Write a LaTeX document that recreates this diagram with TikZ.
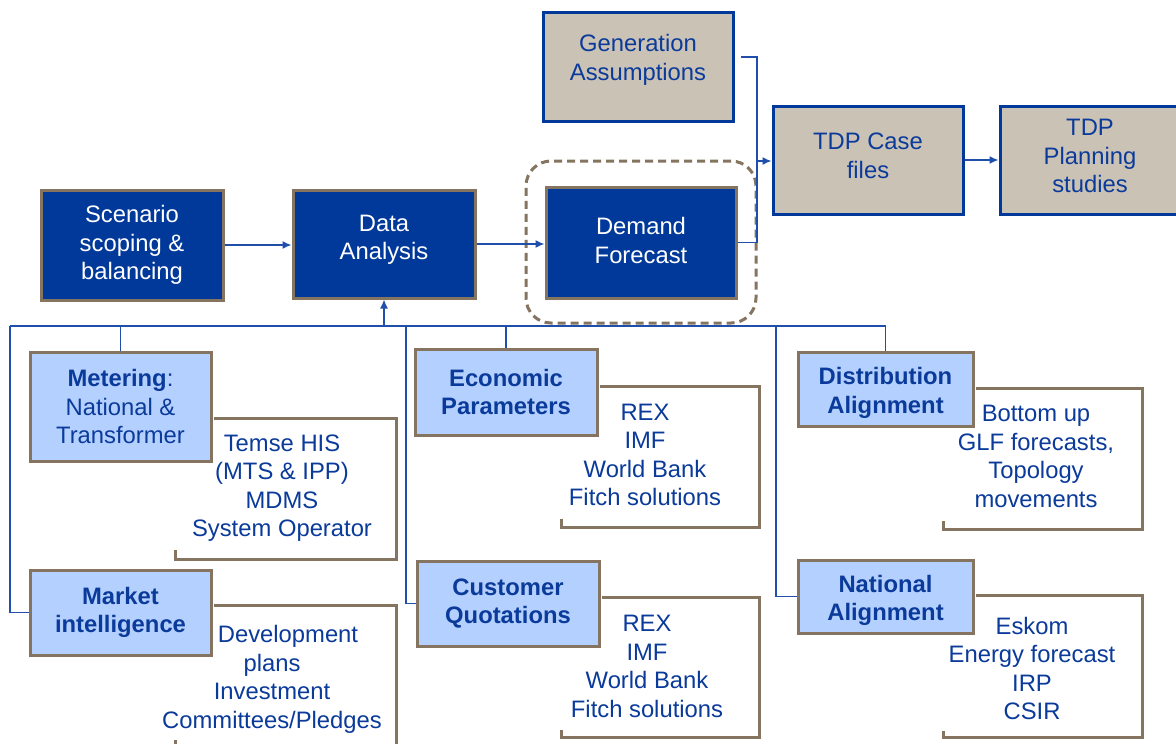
\documentclass[tikz,border=0pt]{standalone}
\usepackage{fontspec}
\setmainfont{Liberation Sans}
\usetikzlibrary{arrows.meta}
\definecolor{dblue}{HTML}{00399A}
\definecolor{tblue}{HTML}{0A3A9A}
\definecolor{lblue}{HTML}{B4D0FF}
\definecolor{brownc}{HTML}{857560}
\definecolor{greyc}{HTML}{CBC2B6}
\definecolor{lineblue}{HTML}{1F4FAA}
\begin{document}
\begin{tikzpicture}[x=1pt,y=-1pt,
  font=\fontsize{23.8}{28.5}\selectfont,
  darkbox/.style={draw=brownc,fill=dblue,line width=3pt,text=white,align=center,inner sep=0pt},
  greybox/.style={draw=dblue,fill=greyc,line width=3pt,text=tblue,align=center,inner sep=0pt},
  lightbox/.style={draw=brownc,fill=lblue,line width=3pt,text=tblue,align=center,inner sep=0pt,font=\fontsize{23.8}{28.5}\selectfont\bfseries},
  wlbl/.style={text=white,align=center,inner sep=0pt},
  blbl/.style={text=tblue,align=center,inner sep=0pt},
  bblbl/.style={text=tblue,align=center,inner sep=0pt,font=\fontsize{23.8}{28.5}\selectfont\bfseries},
  info/.style={text=tblue,align=center,inner sep=0pt},
  bracket/.style={draw=brownc,line width=3pt},
  conn/.style={draw=lineblue,line width=1.5pt},
  arr/.style={conn,-{Latex[length=9pt,width=8pt]}},
  grpbox/.style={draw=brownc,line width=3pt,dash pattern=on 8pt off 5pt,rounded corners=25pt,inner sep=0pt}]
\fill[white] (0,0) rectangle (1176,744);
\useasboundingbox (0,0) rectangle (1176,744);

% dashed group
\node[grpbox,minimum width=230pt,minimum height=162pt] (grp) at (641,242) {};

% top row
\node[darkbox,minimum width=182pt,minimum height=110pt] (scen) at (132,245) {Scenario\\scoping \&\\balancing};
\node[darkbox,minimum width=182pt,minimum height=108pt,
  label={[wlbl,yshift=4pt]center:Data\\Analysis}] (data) at (384,244) {};
\node[darkbox,minimum width=190pt,minimum height=111pt,
  label={[wlbl,yshift=2pt]center:Demand\\Forecast}] (dem) at (641,242.5) {};
\node[greybox,minimum width=190pt,minimum height=109pt,
  label={[blbl,yshift=6.5pt]center:Generation\\Assumptions}] (gen) at (638,66.5) {};
\node[greybox,minimum width=190pt,minimum height=108pt,
  label={[blbl,yshift=4pt]center:TDP Case\\files}] (tdpc) at (868,160) {};
\node[greybox,minimum width=180pt,minimum height=108pt,
  label={[blbl,yshift=4pt]center:TDP\\Planning\\studies}] (tdpp) at (1090,160) {};

% top connectors
\draw[arr] (scen.east) -- (scen.east -| data.west);
\draw[arr] (data.east) -- (data.east -| dem.west);
\coordinate (gs) at (741,57);
\coordinate (jx) at (757,161);
\draw[conn] (gs) -| (jx) |- (dem.east);
\draw[arr] (jx) -- (jx -| tdpc.west);
\draw[arr] (tdpc.east) -- (tdpc.east -| tdpp.west);

% source boxes
\node[lightbox,minimum width=181pt,minimum height=109pt] (met) at (120.5,406.5) {Metering\mdseries:\\\mdseries National \&\\\mdseries Transformer};
\node[lightbox,minimum width=181pt,minimum height=85pt] (mkt) at (120.5,612.5) {Market\\intelligence};
\node[lightbox,minimum width=182pt,minimum height=86pt] (eco) at (506,392) {Economic\\Parameters};
\node[lightbox,minimum width=182pt,minimum height=85pt] (cust) at (508,603.5) {Customer\\Quotations};
\node[lightbox,minimum width=175pt,minimum height=74pt,
  label={[bblbl,yshift=-4pt]center:Distribution\\Alignment}] (dist) at (885.5,389) {};
\node[lightbox,minimum width=175pt,minimum height=73pt,
  label={[bblbl,yshift=-4pt]center:National\\Alignment}] (nat) at (885.5,596.5) {};

% brackets
\draw[bracket] ([xshift=1.5pt]met.east |- 0,418) -- (396,418) -- (396,559) -- (175,559) -- (175,550);
\draw[bracket] ([xshift=1.5pt]mkt.east |- 0,605) -- (396,605) -- (396,750) -- (175,750) -- (175,740);
\draw[bracket] ([xshift=1.5pt]eco.east |- 0,386) -- (759,386) -- (759,527) -- (561,527) -- (561,519);
\draw[bracket] ([xshift=1.5pt]cust.east |- 0,597) -- (759,597) -- (759,737) -- (561,737) -- (561,730);
\draw[bracket] ([xshift=1.5pt]dist.east |- 0,388) -- (1142,388) -- (1142,529) -- (943,529) -- (943,521);
\draw[bracket] ([xshift=1.5pt]nat.east |- 0,595) -- (1142,595) -- (1142,737) -- (943,737) -- (943,731);

\node[info] (metinfo) at (282,488) {Temse HIS\\(MTS \& IPP)\\MDMS\\System Operator};
\node[info] (mktinfo) at (272,679.5) {\hspace*{32pt}Development\\plans\\Investment\\Committees/Pledges};
\node[info] (ecoinfo) at (645,455) {REX\\IMF\\World Bank\\Fitch solutions};
\node[info] (custinfo) at (647,666.5) {REX\\IMF\\World Bank\\Fitch solutions};
\node[info] (distinfo) at (1036,456.5) {Bottom up\\GLF forecasts,\\Topology\\movements};
\node[info] (natinfo) at (1032,668.5) {Eskom\\Energy forecast\\IRP\\CSIR};

% bus
\coordinate (bl) at (10,326);
\coordinate (br) at (886,326);
\coordinate (cx) at (406,326);
\coordinate (nx) at (776,326);
\draw[conn] (bl) -- (br);
\draw[arr] (data.south |- bl) -- (data.south);
\draw[conn] (bl) |- (mkt.west);
\draw[conn] (met.north |- bl) -- (met.north);
\draw[conn] (cx) |- (cust.west);
\draw[conn] (eco.north |- bl) -- (eco.north);
\draw[conn] (nx) |- (nat.west);
\draw[conn] (dist.north |- bl) -- (dist.north);
\end{tikzpicture}
\end{document}
